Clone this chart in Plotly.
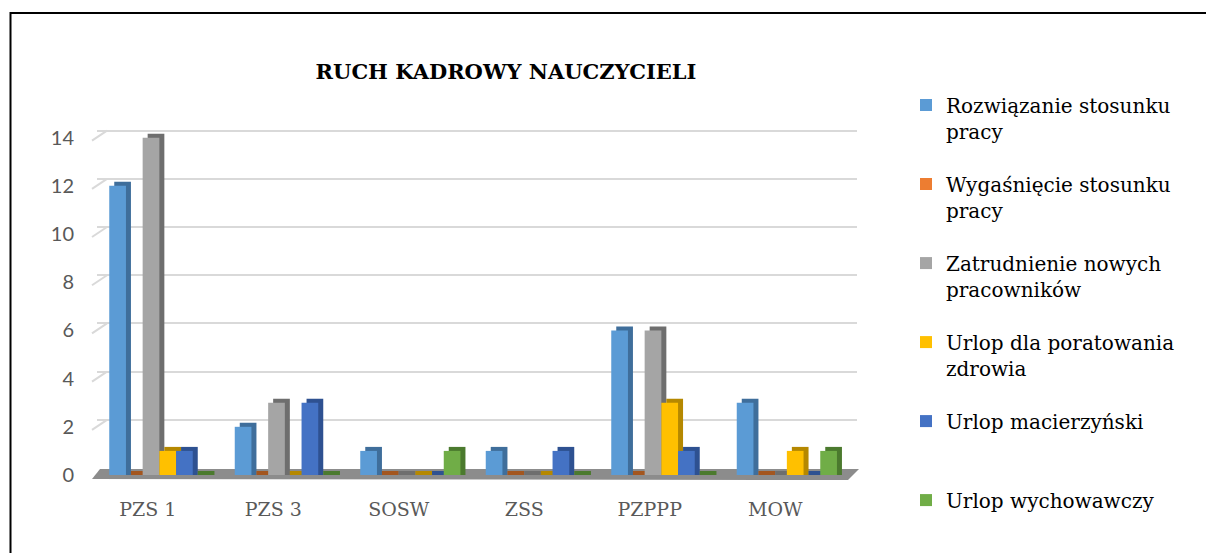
import plotly.graph_objects as go

categories = ["PZS 1", "PZS 3", "SOSW", "ZSS", "PZPPP", "MOW"]
series_names = [
    "Rozwiązanie stosunku<br>pracy",
    "Wygaśnięcie stosunku<br>pracy",
    "Zatrudnienie nowych<br>pracowników",
    "Urlop dla poratowania<br>zdrowia",
    "Urlop macierzyński<br>&nbsp;",
    "Urlop wychowawczy<br>&nbsp;",
]
rozwiazanie = [12, 2, 1, 1, 6, 3]
wygasniecie = [0, 0, 0, 0, 0, 0]
zatrudnienie = [14, 3, 0, 0, 6, 0]
urlop_zdrowia = [1, 0, 0, 0, 3, 1]
urlop_macierzynski = [1, 3, 0, 1, 1, 0]
urlop_wychowawczy = [0, 0, 1, 0, 0, 1]
series_values = [rozwiazanie, wygasniecie, zatrudnienie, urlop_zdrowia,
                 urlop_macierzynski, urlop_wychowawczy]
y_ticks = [0, 2, 4, 6, 8, 10, 12, 14]

front_colors = ["#5B9BD5", "#ED7D31", "#A5A5A5", "#FFC000", "#4472C4", "#70AD47"]
side_colors = ["#3F6E9B", "#A3561F", "#6E6E6E", "#B58800", "#2E5191", "#4B7A2E"]

# geometry (pixels -> data units)
px_per_unit = (475 - 138) / 14.0
Y_MAX = 14.4
L, R_PX, B_PX = 97, 857, 475
T_PX = B_PX - Y_MAX * px_per_unit
px_per_cat = 125.5
bar_w = 16.7 / px_per_cat
start_off = -50.5 / px_per_cat
depth_x = 5.0 / px_per_cat
depth_y = 4.0 / px_per_unit
grid_shift = 7.0 / px_per_unit

fig = go.Figure()

# side/top "depth" faces first
for i, vals in enumerate(series_values):
    fig.add_trace(go.Bar(
        x=categories, y=[v + depth_y for v in vals], base=0,
        width=bar_w, offset=start_off + i * bar_w + depth_x,
        marker=dict(color=side_colors[i], line=dict(width=0)),
        showlegend=False, hoverinfo="skip",
    ))
# front faces
for i, vals in enumerate(series_values):
    fig.add_trace(go.Bar(
        x=categories, y=vals, name=series_names[i],
        width=bar_w, offset=start_off + i * bar_w,
        marker=dict(color=front_colors[i], line=dict(width=0)),
        legendgroup=f"g{i}",
    ))

# dummy trace for shifted gridline axis
fig.add_trace(go.Scatter(x=[categories[0]], y=[None], yaxis="y2",
                         showlegend=False, hoverinfo="skip"))

def px_x(p):
    return (p - L) / (R_PX - L)

def px_y(p):
    return (B_PX - p) / (B_PX - T_PX)

shapes = []
# floor
shapes.append(dict(
    type="path", xref="paper", yref="paper", layer="below",
    path=f"M {px_x(92)},{px_y(479)} L {px_x(100)},{px_y(469)} L {px_x(859)},{px_y(469)} L {px_x(848)},{px_y(480)} Z",
    fillcolor="#8C8C8C", line=dict(width=0),
))
# gridline diagonal starts
for t in y_ticks[1:]:
    shapes.append(dict(
        type="line", xref="paper", yref="y", layer="below",
        x0=px_x(92), x1=px_x(107), y0=t - 3.0 / px_per_unit, y1=t + grid_shift,
        line=dict(color="#D9D9D9", width=2),
    ))
# outer frame (only left and top visible)
shapes.append(dict(
    type="rect", xref="paper", yref="paper",
    x0=px_x(10.5), x1=px_x(1300), y0=px_y(700), y1=px_y(13.5),
    line=dict(color="#000000", width=2), fillcolor="rgba(0,0,0,0)",
))

fig.update_layout(
    width=1206, height=553,
    margin=dict(l=L, r=1206 - R_PX, t=T_PX, b=553 - B_PX, pad=0),
    paper_bgcolor="white", plot_bgcolor="white",
    barmode="overlay",
    title=dict(text="<b>RUCH KADROWY NAUCZYCIELI</b>",
               font=dict(family="DejaVu Serif", size=21, color="#000000"),
               x=px_x(506), xref="paper", xanchor="center",
               y=1 - 72 / 553, yref="container", yanchor="middle"),
    xaxis=dict(
        type="category", range=[-0.5, (R_PX - L) / px_per_cat - 0.5],
        showgrid=False, showline=False, zeroline=False, ticks="",
        tickfont=dict(family="DejaVu Serif", size=19, color="#595959"),
        ticklabelstandoff=21, ticklabelshift=-12,
    ),
    yaxis=dict(
        range=[0, Y_MAX], tickvals=y_ticks, showgrid=False, zeroline=False,
        showline=False, ticks="",
        tickfont=dict(family="Lato", size=20, color="#595959"),
        ticklabelstandoff=22,
    ),
    yaxis2=dict(
        overlaying="y", range=[-grid_shift, Y_MAX - grid_shift],
        tickvals=y_ticks[1:], showgrid=True, gridcolor="#D9D9D9", gridwidth=2,
        showticklabels=False, zeroline=False, showline=False, ticks="",
    ),
    legend=dict(
        x=px_x(906), y=px_y(86), xanchor="left", yanchor="top",
        xref="paper", yref="paper",
        font=dict(family="DejaVu Serif", size=20, color="#000000"),
        valign="top", tracegroupgap=24, traceorder="grouped",
        bgcolor="rgba(0,0,0,0)", maxheight=553,
    ),
    shapes=shapes,
)

fig.write_html("out.html", config={"displayModeBar": False},
               post_script="document.body.style.margin='0';document.body.style.overflow='hidden';")
